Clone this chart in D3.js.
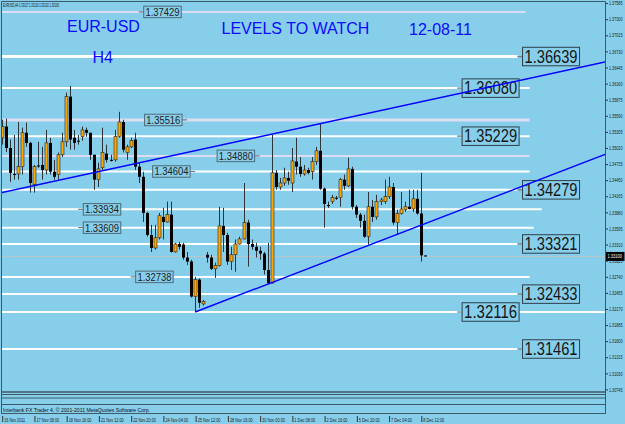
<!DOCTYPE html>
<html>
<head>
<meta charset="utf-8">
<script src="https://cdn.jsdelivr.net/npm/d3@7"></script>
<style>
  html, body { margin: 0; padding: 0; background: #87ceeb; }
  svg { display: block; }
</style>
</head>
<body>
<div id="chart"></div>
<script>
'use strict';

// EURUSD H4 bars (bar 0 = 16 Nov 2011 00:00)
const opens = [
  1.3520, 1.3540, 1.3502, 1.3456, 1.3456, 1.3469, 1.3529, 1.3511, 1.3437, 1.3471,
  1.3472, 1.3463, 1.3511, 1.3460, 1.3455, 1.3490, 1.3513, 1.3593, 1.3520, 1.3515,
  1.3522, 1.3534, 1.3529, 1.3490, 1.3446, 1.3467, 1.3492, 1.3481, 1.3481, 1.3522,
  1.3548, 1.3494, 1.3504, 1.3517, 1.3469, 1.3451, 1.3387, 1.3348, 1.3325, 1.3343,
  1.3380, 1.3371, 1.3384, 1.3318, 1.3332, 1.3331, 1.3308, 1.3301, 1.3239, 1.3269,
  1.3226, 1.3313, 1.3308, 1.3288, 1.3294, 1.3364, 1.3348, 1.3301, 1.3313, 1.3332,
  1.3341, 1.3370, 1.3332, 1.3327, 1.3320, 1.3315, 1.3286, 1.3263, 1.3458, 1.3433,
  1.3440, 1.3449, 1.3440, 1.3478, 1.3469, 1.3456, 1.3463, 1.3460, 1.3478, 1.3497,
  1.3430, 1.3401, 1.3407, 1.3414, 1.3414, 1.3446, 1.3435, 1.3465, 1.3398, 1.3384,
  1.3373, 1.3345, 1.3398, 1.3380, 1.3407, 1.3407, 1.3416, 1.3433, 1.3370, 1.3386,
  1.3393, 1.3398, 1.3394, 1.3412, 1.3386, 1.33117
];
const highs = [
  1.3552, 1.3554, 1.3517, 1.3525, 1.3548, 1.3538, 1.3547, 1.3513, 1.3472, 1.3513,
  1.3504, 1.3534, 1.3520, 1.3481, 1.3494, 1.3529, 1.3600, 1.3612, 1.3534, 1.3525,
  1.3540, 1.3538, 1.3529, 1.3490, 1.3476, 1.3538, 1.3508, 1.3490, 1.3534, 1.3566,
  1.3552, 1.3508, 1.3520, 1.3529, 1.3476, 1.3460, 1.3389, 1.3366, 1.3366, 1.3387,
  1.3396, 1.3407, 1.3407, 1.3334, 1.3336, 1.3334, 1.3318, 1.3304, 1.3274, 1.3271,
  1.3233, 1.3318, 1.3313, 1.3299, 1.3398, 1.3396, 1.3352, 1.3327, 1.3340, 1.3345,
  1.3440, 1.3375, 1.3340, 1.3334, 1.3327, 1.3318, 1.3334, 1.3525, 1.3463, 1.3449,
  1.3467, 1.3460, 1.3502, 1.3520, 1.3486, 1.3472, 1.3467, 1.3486, 1.3504, 1.3545,
  1.3432, 1.3407, 1.3419, 1.3417, 1.3449, 1.3455, 1.3485, 1.3469, 1.3401, 1.3387,
  1.3384, 1.3424, 1.3410, 1.3419, 1.3414, 1.3446, 1.3451, 1.3440, 1.3393, 1.3424,
  1.3407, 1.3428, 1.3428, 1.3428, 1.3458, 1.33119
];
const lows = [
  1.3508, 1.3495, 1.3442, 1.3446, 1.3446, 1.3455, 1.3504, 1.3423, 1.3423, 1.3467,
  1.3446, 1.3455, 1.3455, 1.3446, 1.3446, 1.3486, 1.3504, 1.3499, 1.3499, 1.3508,
  1.3515, 1.3522, 1.3481, 1.3428, 1.3433, 1.3463, 1.3476, 1.3478, 1.3478, 1.3520,
  1.3494, 1.3481, 1.3502, 1.3463, 1.3440, 1.3371, 1.3345, 1.3318, 1.3322, 1.3340,
  1.3340, 1.3370, 1.3317, 1.3317, 1.3322, 1.3304, 1.3295, 1.3237, 1.32116, 1.3219,
  1.3223, 1.3299, 1.3286, 1.3272, 1.3292, 1.3318, 1.3295, 1.3286, 1.3283, 1.3331,
  1.3340, 1.3292, 1.3322, 1.3308, 1.3304, 1.3278, 1.3261, 1.3262, 1.3428, 1.3428,
  1.3435, 1.3437, 1.3424, 1.3455, 1.3451, 1.3453, 1.3455, 1.3446, 1.3472, 1.3428,
  1.3361, 1.3396, 1.3403, 1.3410, 1.3398, 1.3428, 1.3433, 1.3393, 1.3378, 1.3361,
  1.3343, 1.3331, 1.3371, 1.3375, 1.3401, 1.3403, 1.3412, 1.3366, 1.3348, 1.3384,
  1.3389, 1.3393, 1.3389, 1.3384, 1.3301, 1.33102
];
const closes = [
  1.3540, 1.3502, 1.3458, 1.3455, 1.3469, 1.3529, 1.3511, 1.3440, 1.3469, 1.3470,
  1.3463, 1.3511, 1.3460, 1.3451, 1.3490, 1.3513, 1.3593, 1.3517, 1.3511, 1.3514,
  1.3534, 1.3529, 1.3490, 1.3446, 1.3465, 1.3494, 1.3481, 1.3480, 1.3522, 1.3548,
  1.3499, 1.3504, 1.3515, 1.3469, 1.3451, 1.3387, 1.3348, 1.3325, 1.3343, 1.3382,
  1.3371, 1.3384, 1.3318, 1.3332, 1.3327, 1.3308, 1.3301, 1.3239, 1.3269, 1.3228,
  1.3230, 1.3308, 1.3288, 1.3294, 1.3364, 1.3348, 1.3301, 1.3313, 1.3332, 1.3341,
  1.3370, 1.3332, 1.3327, 1.3320, 1.3315, 1.3286, 1.3263, 1.3458, 1.3433, 1.3440,
  1.3449, 1.3444, 1.3479, 1.3469, 1.3456, 1.3463, 1.3458, 1.3478, 1.3497, 1.3430,
  1.3403, 1.3400, 1.3414, 1.3413, 1.3446, 1.3435, 1.3465, 1.3398, 1.3384, 1.3373,
  1.3345, 1.3398, 1.3380, 1.3407, 1.3410, 1.3416, 1.3433, 1.3370, 1.3386, 1.3394,
  1.3398, 1.3394, 1.3412, 1.3386, 1.3312, 1.33100
];

// horizontal "levels to watch"
const levelPrices    = [1.37429, 1.36639, 1.36080, 1.35516, 1.35229, 1.34880, 1.34604, 1.34279,
                        1.33934, 1.33609, 1.33321, 1.32738, 1.32433, 1.32116, 1.31461];
const levelLabelBar  = [34, 128, 113, 46, 113, 64, 48, 128, 19, 19, 128, 32, 128, 113, 128];
const levelLabelSide = [1, 1, 1, -1, 1, -1, -1, 1, 1, 1, 1, 1, 1, 1, 1];
const levelLabelBig  = [false, true, true, false, true, false, false, true,
                        false, false, true, false, true, true, true];
const levelLineEnd   = [130, 128, 131, 131, 131, 131, 131, 128, 134, 132, 128, 131, 128, 150, 128];

// trend lines: [bar, price] anchor pairs
const upperTrend = [[0, 1.3423], [79, 1.3545]];
const lowerTrend = [[48, 1.32116], [66, 1.3261]];

// axis labels
const priceTicks = [1.37585, 1.37300, 1.37015, 1.36730, 1.36445, 1.36160, 1.35875, 1.35590,
                    1.35305, 1.35020, 1.34735, 1.34450, 1.34165, 1.33880, 1.33595, 1.33310,
                    1.33025, 1.32740, 1.32455, 1.32170, 1.31885, 1.31600, 1.31315, 1.31030, 1.30745];
const dateBars   = [0, 8, 16, 24, 32, 40, 48, 56, 64, 72, 80, 88, 96, 104];
const dateLabels = ['16 Nov 2011', '17 Nov 08:00', '18 Nov 16:00', '21 Nov 12:00', '22 Nov 20:00',
                    '24 Nov 04:00', '25 Nov 12:00', '28 Nov 16:00', '30 Nov 00:00', '1 Dec 08:00',
                    '2 Dec 16:00', '5 Dec 20:00', '7 Dec 04:00', '8 Dec 12:00'];

const W = 625, H = 424;
const plot = {left: 1.5, top: 1.5, right: 605.5, bottom: 392};
const BG = '#87ceeb', FRAME = '#3d5a68', SMALL_FONT = 'Liberation Sans, Arial, sans-serif';

const x = d3.scaleLinear().domain([0, 150]).range([1.7, 606.2]);
const y = d3.scaleLinear().domain([1.30700, 1.37640]).range([392, 0]);

const svg = d3.select('#chart').append('svg')
  .attr('width', W).attr('height', H)
  .style('font-family', SMALL_FONT);

svg.append('rect').attr('width', W).attr('height', H).attr('fill', BG);

svg.append('clipPath').attr('id', 'plot-clip')
  .append('rect')
    .attr('x', plot.left).attr('y', plot.top)
    .attr('width', plot.right - plot.left).attr('height', plot.bottom - plot.top);

const main = svg.append('g').attr('clip-path', 'url(#plot-clip)');

// level lines
const lavender = new Set([1.37429, 1.35516, 1.34880]);
const thick = new Set([1.36639, 1.35516]);
const levels = levelPrices.map((p, i) => ({
  price: p, bar: levelLabelBar[i], side: levelLabelSide[i],
  big: levelLabelBig[i], end: levelLineEnd[i],
}));

main.append('g').selectAll('line')
  .data(levels).enter().append('line')
    .attr('x1', plot.left)
    .attr('x2', d => Math.min(x(d.end), plot.right))
    .attr('y1', d => y(d.price)).attr('y2', d => y(d.price))
    .attr('stroke', d => lavender.has(d.price) ? '#dcdcf4' : '#ffffff')
    .attr('stroke-width', d => thick.has(d.price) ? 3 : 2);

// bid line
const lastClose = closes[closes.length - 1];
main.append('line')
  .attr('x1', plot.left).attr('x2', plot.right)
  .attr('y1', Math.round(y(lastClose)) + 0.5).attr('y2', Math.round(y(lastClose)) + 0.5)
  .attr('stroke', '#b9c6cc').attr('stroke-width', 1);

// candles
const bars = opens.map((o, i) => ({i: i, o: o, h: highs[i], l: lows[i], c: closes[i]}));
const candles = main.append('g');
candles.selectAll('line')
  .data(bars).enter().append('line')
    .attr('x1', d => Math.round(x(d.i)) + 0.5).attr('x2', d => Math.round(x(d.i)) + 0.5)
    .attr('y1', d => y(d.h)).attr('y2', d => y(d.l))
    .attr('stroke', '#2e3438').attr('stroke-width', 1);
candles.selectAll('rect')
  .data(bars).enter().append('rect')
    .attr('x', d => Math.round(x(d.i)) - 1)
    .attr('width', 3)
    .attr('y', d => y(Math.max(d.o, d.c)))
    .attr('height', d => Math.max(1, Math.abs(y(d.o) - y(d.c))))
    .attr('fill', d => d.c > d.o ? '#ffa500' : '#000000')
    .attr('stroke', d => d.c > d.o ? '#2a2a2a' : 'none')
    .attr('stroke-width', 0.6);

// level price labels
const labelGroup = main.append('g');
levels.forEach(d => {
  const w = d.big ? 57 : 37.5, h = d.big ? 18.5 : 11.5;
  const ax = x(d.bar), py = y(d.price);
  const bx = d.side > 0 ? ax + 5 : ax - 5 - w;
  labelGroup.append('line')
    .attr('x1', ax).attr('x2', d.side > 0 ? bx : bx + w)
    .attr('y1', py).attr('y2', py)
    .attr('stroke', '#6f7f88').attr('stroke-width', 1.2);
  labelGroup.append('rect')
    .attr('x', bx).attr('y', py - h / 2)
    .attr('width', w).attr('height', h)
    .attr('fill', BG)
    .attr('stroke', d.big ? '#2f3f48' : '#4f6a78').attr('stroke-width', 1);
  labelGroup.append('text')
    .attr('x', bx + w / 2).attr('y', py + (d.big ? 6.2 : 4))
    .attr('text-anchor', 'middle')
    .attr('font-size', d.big ? 17.5 : 11)
    .attr('textLength', d.big ? 53 : 34)
    .attr('lengthAdjust', 'spacingAndGlyphs')
    .attr('fill', d.big ? '#161616' : '#222')
    .text(d3.format('.5f')(d.price));
});

// trend lines, extended as rays
function trendPrice(t, bar) {
  const [b1, p1] = t[0], [b2, p2] = t[1];
  return p1 + (p2 - p1) * (bar - b1) / (b2 - b1);
}
[[upperTrend, -2], [lowerTrend, lowerTrend[0][0]]].forEach(([t, start]) => {
  main.append('line')
    .attr('x1', x(start)).attr('y1', y(trendPrice(t, start)))
    .attr('x2', x(152)).attr('y2', y(trendPrice(t, 152)))
    .attr('stroke', '#0000ff').attr('stroke-width', 1.4);
});

// titles
const titles = [
  {t: 'EUR-USD', x: 67, y: 31.7},
  {t: 'H4', x: 92.5, y: 63},
  {t: 'LEVELS TO WATCH', x: 221.5, y: 34.3},
  {t: '12-08-11', x: 409, y: 35},
];
svg.append('g').selectAll('text')
  .data(titles).enter().append('text')
    .attr('x', d => d.x).attr('y', d => d.y)
    .attr('font-size', 16)
    .attr('fill', '#0a0aff')
    .text(d => d.t);

// header
svg.append('text')
  .attr('x', 3).attr('y', 7)
  .attr('font-size', 5.2).attr('fill', '#111')
  .attr('textLength', 56).attr('lengthAdjust', 'spacingAndGlyphs')
  .text('EURUSD,H4  1.33117 1.33119 1.33102 1.33100');

// frame and empty indicator strips
const frame = svg.append('g').attr('stroke', FRAME).attr('fill', 'none');
frame.append('path')
  .attr('d', `M${plot.left},414 V${plot.top} H${plot.right} V414`)
  .attr('stroke-width', 1);
[392, 394.5, 398, 404.5, 413.5].forEach((yy, i) => {
  frame.append('line')
    .attr('x1', plot.left).attr('x2', plot.right)
    .attr('y1', yy).attr('y2', yy)
    .attr('stroke-width', i === 0 ? 1.5 : 1);
});
svg.append('text')
  .attr('x', 3).attr('y', 411.5)
  .attr('font-size', 5).attr('fill', '#111')
  .attr('textLength', 147).attr('lengthAdjust', 'spacingAndGlyphs')
  .text('Interbank FX Trader 4, \u00a9 2001-2011 MetaQuotes Software Corp.');

// price axis
const yAxis = svg.append('g')
  .attr('transform', `translate(${plot.right},0)`)
  .call(d3.axisRight(y).tickValues(priceTicks).tickSize(2.5).tickFormat(d3.format('.5f')));
yAxis.select('.domain').remove();
yAxis.selectAll('line').attr('stroke', '#333');
yAxis.selectAll('text')
  .attr('x', 3.5).attr('dy', '0.35em')
  .attr('font-size', 4.8).attr('fill', '#1a1a1a')
  .attr('textLength', 13.5).attr('lengthAdjust', 'spacingAndGlyphs')
  .style('font-family', SMALL_FONT);

// current price marker
const bidY = y(lastClose);
svg.append('rect')
  .attr('x', 606).attr('y', bidY - 4.5).attr('width', 18.5).attr('height', 9)
  .attr('fill', '#000');
svg.append('text')
  .attr('x', 607.5).attr('y', bidY + 2)
  .attr('font-size', 4.8).attr('fill', '#fff')
  .attr('textLength', 14.5).attr('lengthAdjust', 'spacingAndGlyphs')
  .text(d3.format('.5f')(lastClose));

// time axis
const xAxis = svg.append('g')
  .attr('transform', 'translate(0,416)')
  .call(d3.axisBottom(x).tickValues(dateBars).tickSize(6)
          .tickFormat((d, i) => dateLabels[i]));
xAxis.select('.domain').remove();
xAxis.selectAll('line').attr('stroke', '#333')
  .attr('transform', 'translate(0.5,0)');
xAxis.selectAll('text')
  .attr('x', 2).attr('y', 0).attr('dy', 5.5)
  .attr('text-anchor', 'start')
  .attr('font-size', 5).attr('fill', '#1a1a1a')
  .attr('textLength', d => dateLabels[dateBars.indexOf(d)].length * 1.9)
  .attr('lengthAdjust', 'spacingAndGlyphs')
  .style('font-family', SMALL_FONT);
</script>
</body>
</html>
